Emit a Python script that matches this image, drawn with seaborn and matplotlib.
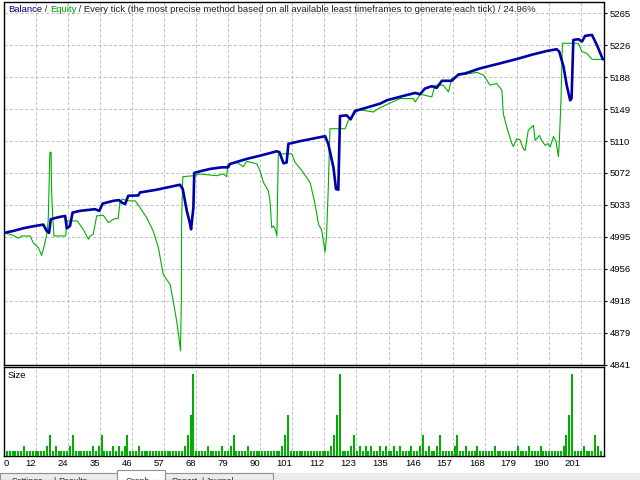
import numpy as np
import seaborn as sns
import matplotlib.pyplot as plt
from matplotlib.patches import Rectangle

# balance curve: trade position / deposit
bal_x = [0, 3.2, 6.7, 10.2, 13.7, 14.9, 15.7, 16.3, 18.9, 21.3, 21.9, 23.0, 23.9, 26.5, 31.7,
         33.2, 34.4, 38.1, 40.1, 41.0, 42.2, 43.3, 46.8, 47.4, 53.2, 61.3, 62.3, 63.7, 64.6, 65.2,
         66.0, 66.3, 68.3, 71.8, 75.9, 78.1, 78.8, 84.6, 90.4, 95.1, 96.0, 97.4, 98.5, 99.1, 103.2,
         111.9, 113.0, 114.8, 115.7, 116.5, 117.1, 119.4, 120.8, 122.3, 126.4, 131.1, 133.4, 139.2,
         143.3, 145.0, 146.7, 149.1, 150.8, 152.6, 156.0, 158.4, 160.7, 165.9, 172.9, 178.7, 184.5,
         189.2, 192.6, 193.5, 195.0, 196.1, 197.3, 197.8, 198.4, 200.2, 201.4, 202.5, 204.9, 206.6, 208.7]
bal_y = [5000, 5002.3, 5005.6, 5008.0, 5010.0, 5002.3, 5000.0, 5016.5, 5018.9, 5020.5, 5005.6, 5008.4,
         5024.5, 5026.6, 5028.6, 5026.6, 5035.4, 5038.7, 5039.6, 5036.7, 5034.7, 5044.8, 5045.2, 5048.8,
         5052.1, 5058.1, 5052.9, 5026.6, 5014.5, 5004.4, 5030.6, 5072.3, 5074.3, 5077.2, 5079.1, 5079.1,
         5083.2, 5089.3, 5094.2, 5098.5, 5097.3, 5084.0, 5085.0, 5107.5, 5110.7, 5116.7, 5107.5, 5079.1,
         5052.9, 5052.1, 5141.0, 5141.8, 5137.0, 5147.1, 5151.2, 5156.0, 5160.0, 5165.3, 5168.9, 5167.3,
         5174.2, 5177.0, 5175.0, 5183.5, 5183.5, 5191.2, 5192.4, 5198.5, 5204.6, 5209.8, 5215.5, 5219.5,
         5221.6, 5218.7, 5200.5, 5178.2, 5160.0, 5162.5, 5232.8, 5233.7, 5230.8, 5237.7, 5238.9, 5226.8, 5209.4]

# equity curve
eq_x = [0, 3.2, 5.0, 6.2, 9.1, 10.2, 12.0, 13.1, 14.0, 14.9, 15.4, 16.0, 16.4, 16.6, 17.0, 17.4, 21.5,
        21.9, 25.5, 27.6, 29.4, 30.0, 31.1, 32.3, 34.6, 36.4, 38.1, 39.8, 40.4, 41.2, 43.3, 45.7, 47.4,
        49.7, 52.0, 53.8, 55.5, 57.9, 59.0, 60.2, 61.0, 61.5, 61.8, 61.9, 62.3, 66.0, 68.3, 74.1, 76.4,
        77.6, 78.0, 81.1, 83.4, 84.6, 88.1, 89.2, 90.4, 92.1, 92.7, 93.3, 93.9, 94.5, 95.1, 95.6, 100.3,
        101.4, 103.8, 106.7, 108.4, 109.6, 110.7, 111.9, 112.4, 113.0, 113.6, 118.9, 120.0, 123.5, 128.7,
        131.1, 138.0, 142.7, 143.3, 145.0, 149.1, 150.2, 153.1, 154.9, 156.0, 158.9, 164.8, 167.1, 169.4,
        171.7, 173.5, 174.0, 175.2, 177.0, 177.5, 178.7, 179.8, 181.0, 181.6, 182.7, 184.5, 185.1, 186.6,
        187.4, 188.6, 189.6, 190.3, 191.5, 192.4, 193.2, 193.5, 194.1, 194.6, 200.2, 201.4, 203.1, 204.9, 208.7]
eq_y = [5000, 4997.1, 4993.5, 4996.3, 4996.3, 4988.1, 4982.1, 4972.8, 4984.1, 4998.3, 5014.5, 5097.3,
        5097.3, 5048.8, 5018.5, 4996.3, 4996.3, 5014.5, 5014.5, 5004.4, 4992.3, 4996.3, 4998.3, 5020.5,
        5021.4, 5012.4, 5016.5, 5017.7, 5036.7, 5040.8, 5038.7, 5038.7, 5030.6, 5018.5, 5002.3, 4982.1,
        4949.8, 4937.6, 4917.4, 4893.1, 4872.9, 4857.6, 4917.4, 5014.5, 5067.8, 5069.0, 5071.1, 5069.0,
        5071.1, 5067.8, 5083.2, 5085.2, 5080.0, 5086.4, 5083.2, 5075.1, 5060.9, 5050.9, 5038.7, 5006.3,
        5008.4, 5004.7, 4996.3, 5095.4, 5095.4, 5085.2, 5075.1, 5060.6, 5034.7, 5010.4, 5003.5, 4976.8,
        4996.3, 5052.9, 5125.7, 5125.7, 5135.8, 5148.8, 5145.9, 5151.2, 5162.1, 5162.1, 5158.0, 5167.3,
        5164.1, 5178.2, 5178.2, 5170.1, 5186.4, 5190.4, 5193.7, 5190.4, 5178.2, 5180.3, 5172.2, 5143.9,
        5127.7, 5107.5, 5104.2, 5113.6, 5112.4, 5101.4, 5099.4, 5123.7, 5129.7, 5111.5, 5117.6, 5111.5,
        5105.5, 5107.9, 5103.4, 5116.4, 5110.3, 5092.1, 5107.9, 5160.0, 5228.8, 5228.8, 5218.7, 5216.7,
        5209.4, 5209.4]

# lot size per trade, in 0.01 lots (trades 1..208)
size_units = [1, 1, 1, 1, 1, 1, 2, 1, 1, 1,  1, 1, 1, 1, 2, 4, 1, 2, 1, 1,
              1, 1, 2, 4, 1, 1, 1, 1, 1, 1,  2, 1, 2, 4, 1, 1, 1, 2, 1, 2,
              1, 2, 4, 1, 1, 1, 2, 1, 1, 1,  1, 1, 1, 1, 1, 1, 1, 1, 1, 1,
              1, 1, 2, 4, 8, 16, 1, 1, 1, 1, 2, 1, 1, 1, 1, 2, 1, 1, 2, 4,
              1, 1, 1, 1, 2, 1, 1, 1, 1, 1,  1, 1, 1, 1, 1, 1, 2, 4, 8, 1,
              1, 1, 1, 1, 1, 1, 1, 1, 1, 1,  1, 1, 1, 2, 4, 8, 16, 1, 1, 1,
              2, 4, 1, 2, 1, 2, 1, 2, 1, 1,  2, 1, 2, 1, 1, 2, 1, 2, 1, 1,
              1, 2, 1, 1, 2, 4, 1, 2, 1, 1,  2, 4, 1, 1, 1, 1, 2, 4, 1, 1,
              2, 1, 1, 1, 2, 1, 1, 1, 1, 1,  2, 1, 1, 1, 1, 1, 1, 1, 2, 1,
              1, 1, 2, 1, 1, 1, 2, 1, 1, 1,  1, 1, 1, 1, 2, 4, 8, 16, 1, 1,
              1, 2, 1, 1, 1, 4, 2, 1]
trade_no = list(range(1, len(size_units) + 1))

y_labels = ['4841', '4879', '4918', '4956', '4995', '5033', '5072', '5110', '5149', '5188', '5226', '5265']
x_labels = ['0', '12', '24', '35', '46', '57', '68', '79', '90', '101', '112', '123', '135', '146',
            '157', '168', '179', '190', '201']

BLUE = '#0000aa'
GREEN = '#00b000'
GRID = '#c4c4c4'
FS = 6.8

sns.set_theme(style='white')
plt.rcParams['font.family'] = ['Liberation Sans', 'DejaVu Sans']
plt.rcParams['font.size'] = FS

W, H = 640, 480


def box(l, t, r, b):
    return [l / W, 1 - b / H, (r - l) / W, (b - t) / H]


fig = plt.figure(figsize=(6.4, 4.8), dpi=100, facecolor='white')
ax = fig.add_axes(box(4, 2.5, 604.3, 365))
ax_sz = fig.add_axes(box(4, 367.3, 604.3, 456))

x_pos = np.linspace(0, 201, len(x_labels))
y_pos = np.linspace(4841, 5265, len(y_labels))

# main panel
sns.lineplot(x=eq_x, y=eq_y, ax=ax, color=GREEN, lw=0.8, estimator=None, sort=False, zorder=3)
sns.lineplot(x=bal_x, y=bal_y, ax=ax, color=BLUE, lw=1.9, estimator=None, sort=False, zorder=4)
ax.set_xlim(0, 209.2)
ax.set_ylim(4840.6, 5278.0)
ax.set_xticks(x_pos)
ax.set_yticks(y_pos)
ax.set_yticklabels(y_labels)
ax.yaxis.tick_right()
ax.tick_params(axis='y', right=True, left=False, labelright=True, labelleft=False,
               length=2.5, width=0.8, pad=1.5, labelsize=FS, colors='black', direction='out')
ax.tick_params(axis='x', bottom=False, labelbottom=False)
ax.set_axisbelow(True)
ax.grid(True, color=GRID, ls=(0, (3, 2)), lw=0.75)
ax.set_xlabel('')
ax.set_ylabel('')
for sp in ax.spines.values():
    sp.set_visible(True)
    sp.set_color('black')
    sp.set_linewidth(1.0)

# size panel
sns.barplot(x=trade_no, y=size_units, ax=ax_sz, native_scale=True, orient='x', color=GREEN,
            saturation=1, width=0.7, linewidth=0, errorbar=None, zorder=3)
ax_sz.set_xlim(0, 209.2)
ax_sz.set_ylim(0, 17.3)
ax_sz.set_yticks([])
ax_sz.set_xticks(x_pos)
ax_sz.set_xticklabels(x_labels)
ax_sz.tick_params(axis='x', bottom=True, length=0, pad=2.5, labelsize=FS, colors='black')
for i, lbl in enumerate(ax_sz.get_xticklabels()):
    lbl.set_ha('left' if i == 0 else 'right')
ax_sz.set_axisbelow(True)
ax_sz.grid(True, axis='x', color=GRID, ls=(0, (3, 2)), lw=0.75)
ax_sz.set_xlabel('')
ax_sz.set_ylabel('')
for sp in ax_sz.spines.values():
    sp.set_visible(True)
    sp.set_color('black')
    sp.set_linewidth(1.0)

# title in several colours
t = fig.text(8 / W, 1 - 10 / H, 'Balance', color='#000080', va='center', ha='left', fontsize=FS)
for piece, col in [(' / ', '#202020'), ('Equity', '#00a000'),
                   (' / Every tick (the most precise method based on all available least timeframes '
                    'to generate each tick) / 24.96%', '#202020')]:
    t = ax.annotate(piece, xy=(1, 0), xycoords=t, va='bottom', ha='left', color=col, fontsize=FS)

fig.text(8 / W, 1 - 376 / H, 'Size', color='black', va='center', ha='left', fontsize=FS)

# tester tabs at the bottom edge (cut off by the window edge, as in the screenshot)
fig.patches.append(Rectangle((0, 0), 1, 7 / H, transform=fig.transFigure,
                             facecolor='#ececec', edgecolor='none'))
for l, r, fc in [(0, 117, '#ececec'), (117, 165, 'white'), (165, 273, '#ececec')]:
    top = 470 if fc == 'white' else 473
    fig.patches.append(Rectangle((l / W, 0), (r - l) / W, (480 - top) / H, transform=fig.transFigure,
                                 facecolor=fc, edgecolor='#909090', lw=0.8))
for txt, xp in [('Settings', 12), ('|', 53), ('Results', 58), ('Graph', 126),
                ('Report', 171), ('|', 201), ('Journal', 206)]:
    fig.text(xp / W, 1 - 476.5 / H, txt, color='#303030', va='top', ha='left', fontsize=6.2)

fig.savefig('out.png', dpi=100)
